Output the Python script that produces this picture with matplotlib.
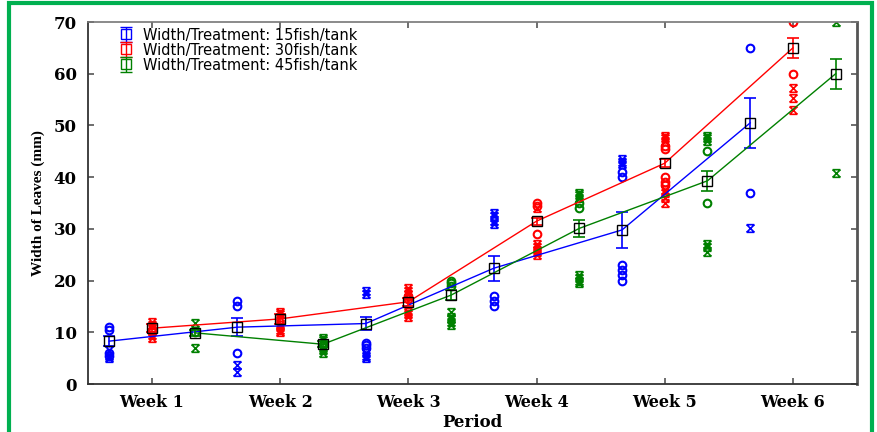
import matplotlib
matplotlib.use("Agg")
import matplotlib.pyplot as plt
from matplotlib.path import Path
from matplotlib.patches import Rectangle
import numpy as np

weeks = ["Week 1", "Week 2", "Week 3", "Week 4", "Week 5", "Week 6"]
treatments = ["Width/Treatment: 15fish/tank", "Width/Treatment: 30fish/tank", "Width/Treatment: 45fish/tank"]
colors = ["#0000FF", "#FF0000", "#008000"]
offsets = [-1/3, 0.0, 1/3]

means_15 = [8.3, 11.0, 11.7, 22.4, 29.8, 50.5]
means_30 = [10.8, 12.6, 15.9, 31.5, 42.7, 65.0]
means_45 = [9.9, 7.7, 17.2, 30.1, 39.3, 60.0]
err_15 = [1.0, 1.8, 1.3, 2.4, 3.4, 4.9]
err_30 = [0.8, 0.9, 0.8, 0.7, 0.8, 2.0]
err_45 = [0.6, 0.6, 1.0, 1.6, 1.9, 2.9]

# raw observations: circles and crosses per week
circ_15 = [[11.0, 10.5, 6.0, 5.5], [16.0, 15.0, 6.0], [8.0, 7.5, 7.0], [17.0, 16.0, 15.0], [41.0, 40.0, 23.0, 22.0, 21.0, 20.0], [65.0, 37.0]]
cross_15 = [[6.5, 5.5, 5.0], [3.7, 2.3], [18.0, 17.5, 6.0, 5.5, 5.0], [33.0, 32.5, 31.5, 31.0], [43.5, 43.0, 42.5], [30.2]]
circ_30 = [[10.5, 10.0], [], [17.0, 16.5], [35.0, 34.5, 29.0], [46.0, 45.5, 40.0, 39.0, 38.5], [70.0, 60.0]]
cross_30 = [[12.0, 11.5, 9.5, 9.0], [14.0, 13.5, 13.0, 11.5, 11.0, 10.5, 10.0], [18.5, 18.0, 17.5, 14.0, 13.5, 13.0], [34.0, 27.0, 26.5, 26.0, 25.5, 25.0], [48.0, 47.5, 47.0, 37.5, 37.0, 36.0, 35.0], [57.2, 55.3, 53.0]]
circ_45 = [[10.0], [7.5], [20.0, 19.5, 19.0], [35.0, 34.0], [45.0, 35.0], []]
cross_45 = [[11.8, 7.0], [9.0, 8.5, 7.0, 6.5, 6.0], [14.0, 13.0, 12.5, 12.0, 11.5], [37.0, 36.5, 36.0, 21.0, 20.5, 20.0, 19.5], [48.0, 47.5, 47.0, 27.0, 26.5, 25.5], [70.0, 40.8]]

means = [means_15, means_30, means_45]
errs = [err_15, err_30, err_45]
circs = [circ_15, circ_30, circ_45]
crosses = [cross_15, cross_30, cross_45]

# hourglass-cross marker
xm = Path([(-1, -1), (1, 1), (-1, 1), (1, -1), (-1, 1), (1, 1), (-1, -1), (1, -1)],
          [Path.MOVETO, Path.LINETO] * 4)

fig = plt.figure(figsize=(8.77, 4.32), dpi=100)
ax = fig.add_axes([0.1003, 0.111, 0.8769, 0.838])

serif = ["DejaVu Serif"]
serif_n = ["Liberation Serif", "DejaVu Serif"]
sans = ["DejaVu Sans"]

xs = np.arange(1, 7)
handles = []
for i in range(3):
    xpos = xs + offsets[i]
    c = colors[i]
    for k in range(6):
        if circs[i][k]:
            ax.plot([xpos[k]] * len(circs[i][k]), circs[i][k], ls="none", marker="o",
                    ms=5.5, mfc="none", mec=c, mew=1.5, zorder=2)
        if crosses[i][k]:
            ax.plot([xpos[k]] * len(crosses[i][k]), crosses[i][k], ls="none", marker=xm,
                    ms=5.5, mfc="none", mec=c, mew=1.2, zorder=2)
    ax.plot(xpos, means[i], color=c, lw=1.0, zorder=3)
    ax.errorbar(xpos, means[i], yerr=errs[i], fmt="none", ecolor=c, elinewidth=1.2,
                capsize=4, capthick=1.2, zorder=3)
    ax.plot(xpos, means[i], ls="none", marker="s", ms=7, mfc="none", mec="black",
            mew=1.0, zorder=4)
    h = ax.errorbar([np.nan], [np.nan], yerr=[1], fmt="s", color=c, ms=7, mfc="none",
                    mec=c, mew=1.0, ecolor=c, capsize=4, elinewidth=1)
    handles.append(h)

ax.set_xlim(0.5, 6.5)
ax.set_ylim(0, 70)
ax.set_xticks(xs)
ax.set_xticklabels(weeks, fontfamily=serif, fontweight="bold", fontsize=11.5)
ax.set_yticks(range(0, 71, 10))
ax.set_yticklabels([str(v) for v in range(0, 71, 10)], fontfamily=serif,
                   fontweight="bold", fontsize=12)
ax.tick_params(direction="in", length=4, width=1.2, top=True, right=True,
               colors="#555555", labelcolor="black")
ax.tick_params(axis="y", pad=8)
ax.tick_params(axis="x", pad=7)
ax.spines["top"].set_color("#777777")
ax.spines["top"].set_linewidth(1.2)
for s in ["left", "bottom"]:
    ax.spines[s].set_color("#333333")
    ax.spines[s].set_linewidth(1.3)
ax.spines["right"].set_color("#555555")
ax.spines["right"].set_linewidth(2.0)

ax.set_xlabel("Period", fontfamily=serif, fontweight="bold", fontsize=12, labelpad=2)
ax.set_ylabel("Width of Leaves (mm)", fontfamily=serif_n, fontweight="bold", fontsize=11,
              labelpad=6)

leg = ax.legend(handles, treatments, loc="upper left", frameon=False,
                prop={"family": sans, "size": 10.5}, handlelength=1.2, handletextpad=0.6,
                labelspacing=0.0, borderaxespad=0.1, bbox_to_anchor=(0.028, 1.005))

fig.patches.append(Rectangle((0.0105, -0.05), 0.984, 1.043, transform=fig.transFigure,
                             fill=False, ec="#00B050", lw=3, zorder=10))

fig.savefig("out.png", dpi=100)
